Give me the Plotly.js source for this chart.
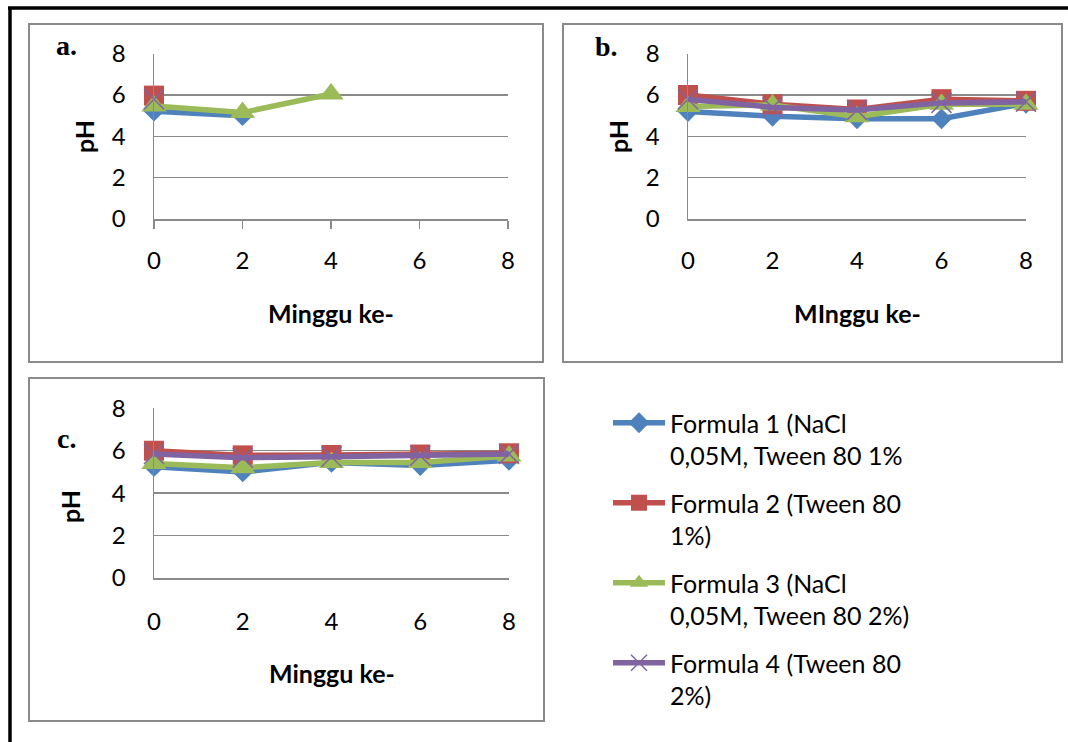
<!DOCTYPE html>
<html>
<head>
<meta charset="utf-8">
<script src="https://cdn.plot.ly/plotly-3.0.1.min.js"></script>
<style>html,body{margin:0;padding:0;background:#fff;}#chart{width:1068px;height:742px;}</style>
</head>
<body>
<div id="chart"></div>
<script>
// ---- data ----
const weeks = [0, 2, 4, 6, 8];
const tickLabels = ['0', '2', '4', '6', '8'];
const yTicks = [0, 2, 4, 6, 8];

const seriesNames = [
  'Formula 1 (NaCl<br>0,05M, Tween 80 1%',
  'Formula 2 (Tween 80<br>1%)',
  'Formula 3 (NaCl<br>0,05M, Tween 80 2%)',
  'Formula 4 (Tween 80<br>2%)'
];

// panel a
const a_f1 = [5.22, 5.0, null, null, null];
const a_f2 = [5.97, null, null, null, null];
const a_f3 = [5.47, 5.15, 6.05, null, null];
const a_f4 = [5.8, null, null, null, null];
// panel b
const b_f1 = [5.2, 4.97, 4.85, 4.85, 5.6];
const b_f2 = [6.0, 5.55, 5.3, 5.8, 5.72];
const b_f3 = [5.45, 5.52, 4.95, 5.55, 5.55];
const b_f4 = [5.8, 5.4, 5.27, 5.62, 5.67];
// panel c
const c_f1 = [5.25, 5.0, 5.45, 5.3, 5.55];
const c_f2 = [6.0, 5.78, 5.8, 5.82, 5.88];
const c_f3 = [5.4, 5.2, 5.45, 5.45, 5.75];
const c_f4 = [5.85, 5.67, 5.72, 5.77, 5.85];

const colors = ['#4F81BD', '#C0504D', '#9BBB59', '#8064A2'];
const symbols = ['diamond', 'square', 'triangle-up', 'x-thin'];
const sizes = [16, 20, 22, 20];

const W = 1068, H = 742;
const px = x => x / W;
const py = y => 1 - y / H;

const panels = [
  {data: [a_f1, a_f2, a_f3, a_f4], xa: 'x', ya: 'y'},
  {data: [b_f1, b_f2, b_f3, b_f4], xa: 'x2', ya: 'y2'},
  {data: [c_f1, c_f2, c_f3, c_f4], xa: 'x3', ya: 'y3'}
];

const traces = [];
panels.forEach((p, pi) => {
  p.data.forEach((vals, si) => {
    traces.push({
      type: 'scatter', mode: 'lines+markers',
      x: weeks, y: vals, xaxis: p.xa, yaxis: p.ya,
      name: seriesNames[si],
      legendgroup: 'f' + si,
      showlegend: pi === 1,
      connectgaps: false,
      cliponaxis: false,
      line: {color: colors[si], width: 5.5},
      marker: {
        symbol: symbols[si], size: sizes[si], color: colors[si],
        line: si === 3 ? {color: colors[si], width: 1.5} : {width: 0}
      }
    });
  });
});

const FONT = 'Lato, Carlito, sans-serif';
const tickFont = {family: FONT, size: 24, color: '#000'};
const gridCol = '#8a8a8a';

function xAxis(domain, anchor, ticks, standoff) {
  return {
    domain: domain, anchor: anchor, range: [0, 8], tickvals: weeks, ticktext: tickLabels,
    showgrid: false, zeroline: false, showline: true, linecolor: gridCol, linewidth: 1.5,
    ticks: ticks ? 'outside' : '', ticklen: 8, tickcolor: gridCol, tickwidth: 1.5,
    tickfont: tickFont, ticklabelstandoff: standoff, fixedrange: true
  };
}
function yAxis(domain, anchor) {
  return {
    domain: domain, anchor: anchor, range: [0, 8], tickvals: yTicks,
    showgrid: true, gridcolor: gridCol, gridwidth: 1.5, zeroline: false,
    showline: true, linecolor: gridCol, linewidth: 1.5,
    ticks: 'outside', ticklen: 22, tickcolor: 'rgba(0,0,0,0)', tickwidth: 1,
    tickfont: tickFont, fixedrange: true
  };
}

const boldFont = {family: FONT, size: 25, color: '#000', weight: 'bold'};
const letterFont = {family: 'Liberation Serif, serif', size: 28, color: '#000', weight: 'bold'};

function ann(text, x, y, font, angle) {
  return {text: text, x: px(x), y: py(y), xref: 'paper', yref: 'paper',
          showarrow: false, xanchor: 'center', yanchor: 'middle', font: font, textangle: angle || 0};
}

const layout = {
  width: W, height: H,
  margin: {l: 0, r: 0, t: 0, b: 0},
  paper_bgcolor: '#fff', plot_bgcolor: 'rgba(0,0,0,0)',
  showlegend: true,
  xaxis: xAxis([px(154), px(508)], 'y', true, 12),
  yaxis: yAxis([py(219), py(53.7)], 'x'),
  // tick marks only for panel a's value axis
  yaxis4: {
    overlaying: 'y', anchor: 'x', side: 'left', range: [0, 8], tickvals: yTicks,
    showgrid: false, zeroline: false, showline: false, showticklabels: false,
    ticks: 'outside', ticklen: 9, tickcolor: gridCol, tickwidth: 1.5, fixedrange: true
  },
  xaxis2: xAxis([px(688), px(1026)], 'y2', false, 20),
  yaxis2: yAxis([py(219), py(53.7)], 'x2'),
  xaxis3: xAxis([px(154), px(509)], 'y3', false, 22),
  yaxis3: yAxis([py(578), py(408.3)], 'x3'),
  legend: {
    x: px(608), y: py(400), xanchor: 'left', yanchor: 'top',
    font: {family: FONT, size: 25, color: '#000'},
    bgcolor: 'rgba(0,0,0,0)', traceorder: 'grouped', tracegroupgap: 12,
    valign: 'top', itemwidth: 52
  },
  shapes: [
    {type: 'line', xref: 'paper', yref: 'paper', x0: px(8), x1: px(1068), y0: py(8), y1: py(8), line: {color: '#000', width: 3.5}},
    {type: 'line', xref: 'paper', yref: 'paper', x0: px(10), x1: px(10), y0: py(8), y1: py(742), line: {color: '#000', width: 3.5}},
    {type: 'rect', xref: 'paper', yref: 'paper', x0: px(29), x1: px(543), y0: py(24), y1: py(362), line: {color: '#8a8a8a', width: 2}},
    {type: 'rect', xref: 'paper', yref: 'paper', x0: px(563), x1: px(1062), y0: py(24), y1: py(362), line: {color: '#8a8a8a', width: 2}},
    {type: 'rect', xref: 'paper', yref: 'paper', x0: px(29), x1: px(544), y0: py(378), y1: py(721), line: {color: '#8a8a8a', width: 2}}
  ],
  annotations: [
    ann('a.', 66, 45, letterFont),
    ann('b.', 606, 47, letterFont),
    ann('c.', 66, 438, letterFont),
    ann('pH', 84, 137, boldFont, -90),
    ann('pH', 618, 137, boldFont, -90),
    ann('pH', 70, 507, boldFont, -90),
    ann('Minggu ke-', 331, 313, boldFont),
    ann('MInggu ke-', 857, 313, boldFont),
    ann('Minggu ke-', 332, 673, boldFont)
  ]
};

Plotly.newPlot('chart', traces, layout, {displayModeBar: false, staticPlot: true});
</script>
</body>
</html>
